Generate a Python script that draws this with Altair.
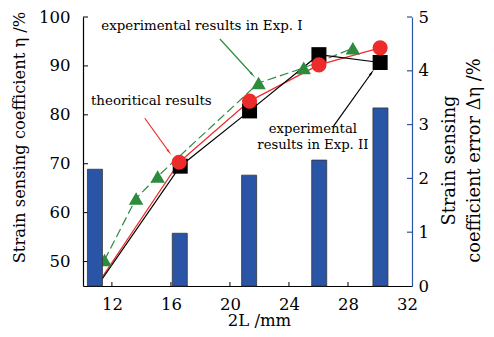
import altair as alt
import pandas as pd

# ---- data ----
bar_x = [10.85, 16.6, 21.3, 26.05, 30.2]
bar_err = [2.17, 0.98, 2.06, 2.34, 3.31]

theo_x = [10.85, 16.56, 21.33, 26.03, 30.18]
theo_y = [44.6, 70.3, 82.8, 90.2, 93.7]

exp2_x = [10.85, 16.63, 21.33, 26.03, 30.18]
exp2_y = [44.3, 69.5, 80.8, 92.3, 90.7]

exp1_x = [11.5, 13.64, 15.1, 21.94, 25.0, 28.33]
exp1_y = [50.3, 62.9, 67.4, 86.5, 89.6, 93.6]

x_ticks = [12, 16, 20, 24, 28, 32]
yl_ticks = [50, 60, 70, 80, 90, 100]
yr_ticks = [0, 1, 2, 3, 4, 5]

FONT = "DejaVu Serif"
W, H = 329, 269
RED = "#ee2b2b"
GREEN = "#2e8b3e"
BLUE = "#2a55a6"

xs = alt.Scale(domain=[10.38, 32], nice=False)
yls = alt.Scale(domain=[45, 100], nice=False)
yrs = alt.Scale(domain=[0, 5], nice=False)

theo = pd.DataFrame({"x": theo_x, "y": theo_y})
exp2 = pd.DataFrame({"x": exp2_x, "y": exp2_y})
exp1 = pd.DataFrame({"x": exp1_x, "y": exp1_y})
bars = pd.DataFrame({"x": bar_x, "e": bar_err})

XT = "2L /mm"
YT = "Strain sensing coefficient η /%"
X = alt.X("x:Q", scale=xs, axis=alt.Axis(values=x_ticks, title=XT, grid=False, ticks=False,
                                          labelPadding=10, titlePadding=0, titleX=176,
                                          domainColor="black"))
YL = alt.Y("y:Q", scale=yls, axis=alt.Axis(values=yl_ticks, title=YT, titleFontSize=16.3,
                                           grid=False, ticks=False, labelPadding=13, titlePadding=11,
                                           titleY=120, domainColor="black"))


def xq(f="x"):
    return alt.X(f + ":Q", scale=xs, title=XT)


def yq(f="y"):
    return alt.Y(f + ":Q", scale=yls, title=YT)


line_theo = alt.Chart(theo).mark_line(color=RED, strokeWidth=1.2, clip=True).encode(x=X, y=YL)
pt_theo = alt.Chart(theo.iloc[1:]).mark_point(shape="circle", filled=True, opacity=1, size=230, color=RED).encode(x=xq(), y=yq())

line_exp2 = alt.Chart(exp2).mark_line(color="black", strokeWidth=1.2, clip=True).encode(x=xq(), y=yq())
pt_exp2 = alt.Chart(exp2.iloc[1:]).mark_point(shape="square", filled=True, opacity=1, size=225, color="black").encode(x=xq(), y=yq())

line_exp1 = alt.Chart(exp1).mark_line(color=GREEN, strokeWidth=1.2, strokeDash=[9, 4], clip=True).encode(x=xq(), y=yq())
pt_exp1 = alt.Chart(exp1).mark_point(shape="triangle-up", filled=True, opacity=1, size=210, color=GREEN).encode(x=xq(), y=yq())

# annotations
ann = pd.DataFrame({
    "x": [11.28, 10.58, 25.62, 25.62],
    "y": [98.2, 82.9, 77.2, 73.9],
    "t": ["experimental results in Exp. I", "theoritical results", "experimental", "results in Exp. II"],
})
txt_left = alt.Chart(ann.iloc[:2]).mark_text(font=FONT, fontSize=13.4, align="left", baseline="middle", color="black").encode(x=xq(), y=yq(), text="t:N")
txt_ctr = alt.Chart(ann.iloc[2:]).mark_text(font=FONT, fontSize=13.2, align="center", baseline="middle", color="black").encode(x=xq(), y=yq(), text="t:N")

arrows = pd.DataFrame({
    "x": [19.32, 14.23, 27.02],
    "y": [95.5, 79.3, 77.7],
    "x2": [21.5, 15.85, 29.58],
    "y2": [88.3, 72.5, 88.5],
    "c": [GREEN, RED, "black"],
    "ang": [136.6, 143.3, 36.4],
})
arrow_shaft = alt.Chart(arrows).mark_rule(strokeWidth=1.2).encode(
    x=xq(), y=yq(), x2="x2:Q", y2="y2:Q", color=alt.Color("c:N", scale=None))
arrow_head = alt.Chart(arrows).mark_point(shape="wedge", filled=True, opacity=1, size=70).encode(
    x=xq("x2"), y=yq("y2"),
    color=alt.Color("c:N", scale=None), angle=alt.Angle("ang:Q", scale=None))

# inward ticks
xt = pd.DataFrame({"x": x_ticks[:-1]})
xtick = alt.Chart(xt).mark_rule(color="black", strokeWidth=1).encode(x=xq(), y=alt.value(H), y2=alt.value(H - 4))
ylt = pd.DataFrame({"y": yl_ticks})
yltick = alt.Chart(ylt).mark_rule(color="black", strokeWidth=1).encode(y=yq(), x=alt.value(0), x2=alt.value(5))

left = alt.layer(line_theo, line_exp1, line_exp2, pt_exp1, pt_exp2, pt_theo,
                 arrow_shaft, arrow_head, txt_left, txt_ctr, xtick, yltick)

RT = ["Strain sensing", "coefficient error Δη /%"]
YR = alt.Y("e:Q", scale=yrs, axis=alt.Axis(orient="right", values=yr_ticks, title=RT, titleFontSize=17.8,
                                           grid=False, ticks=False, labelPadding=6, titlePadding=5,
                                           titleLineHeight=25, titleY=143, titleAlign="center",
                                           domainColor=BLUE, domainWidth=1.2, titleAngle=270))
bar = alt.Chart(bars).mark_bar(size=15, color=BLUE, stroke="#333333", strokeWidth=0.8).encode(x=xq(), y=YR)
yrt = pd.DataFrame({"e": yr_ticks[1:]})
yrtick = alt.Chart(yrt).mark_rule(color=BLUE, strokeWidth=1.2).encode(
    y=alt.Y("e:Q", scale=yrs, title=RT), x=alt.value(W - 5), x2=alt.value(W))
right = alt.layer(bar, yrtick)

chart = alt.layer(left, right).resolve_scale(y="independent").properties(
    width=W, height=H, background="white",
    autosize=alt.AutoSizeParams(type="none"),
    padding={"top": 9, "left": 75, "right": 74, "bottom": 43}
).configure_view(stroke=None).configure_axis(
    labelFont=FONT, titleFont=FONT, labelFontSize=16.5, titleFontSize=16.5,
    titleFontWeight="normal", labelColor="black", titleColor="black", domainWidth=1.2
)

chart.save("out.html", embed_options={"renderer": "svg", "actions": False})
